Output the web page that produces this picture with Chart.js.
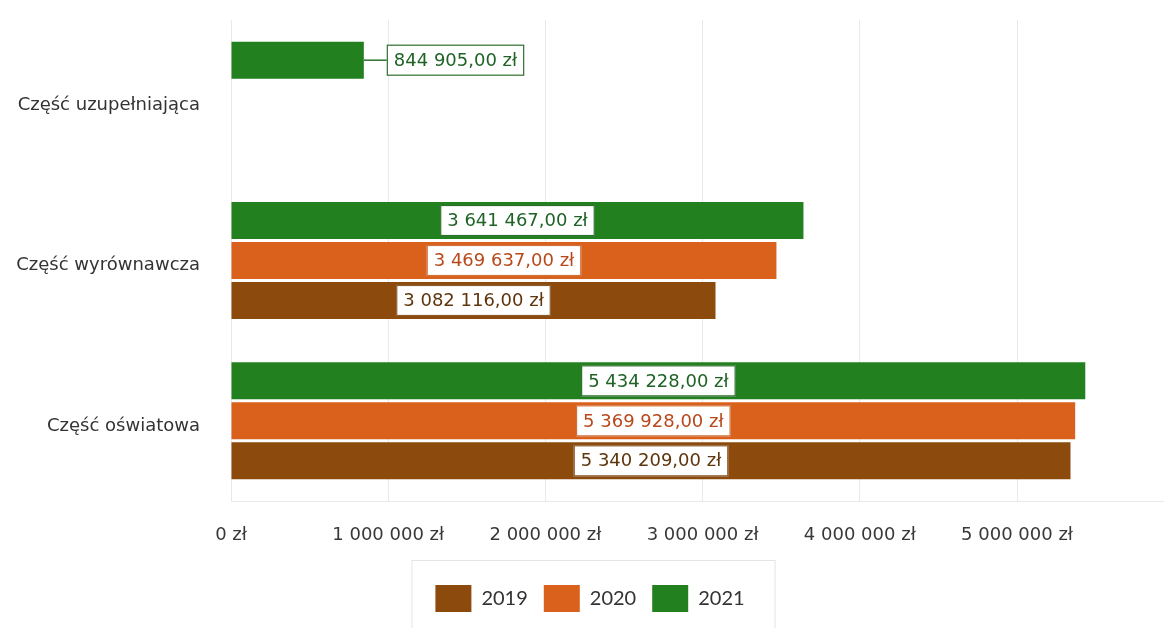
<!DOCTYPE html>
<html lang="pl">
<head>
<meta charset="utf-8">
<title>Subwencja</title>
<script src="https://cdn.jsdelivr.net/npm/chart.js@4/dist/chart.umd.min.js"></script>
<style>
    html, body { margin: 0; padding: 0; background: #ffffff; }
    #wrap { width: 1164px; height: 628px; position: relative; }
</style>
</head>
<body>
<div id="wrap"><canvas id="chart"></canvas></div>
<script>
// dane
const categories = ['Część uzupełniająca', 'Część wyrównawcza', 'Część oświatowa'];
const years = ['2021', '2020', '2019'];
const values2021 = [844905, 3641467, 5434228];
const values2020 = [null, 3469637, 5369928];
const values2019 = [null, 3082116, 5340209];
const xTicks = [0, 1000000, 2000000, 3000000, 4000000, 5000000];

const barColors = ['#22801f', '#d9611c', '#8c4b0c'];
const textColors = ['#1f6326', '#b8481a', '#5e350c'];
const frameColors = ['#2d6f2d', '#d0703a', '#8a5a2a'];

function formatZl(num, withCents) {
    const s = String(Math.round(num)).replace(/\B(?=(\d{3})+(?!\d))/g, ' ');
    return s + (withCents ? ',00' : '') + ' zł';
}

// etykiety wartości w ramkach
const valueLabels = {
    id: 'valueLabels',
    afterDatasetsDraw(chart) {
        const ctx = chart.ctx;
        ctx.save();
        ctx.font = '18px "DejaVu Sans"';
        ctx.textBaseline = 'middle';
        ctx.textAlign = 'center';
        chart.data.datasets.forEach((ds, di) => {
            const meta = chart.getDatasetMeta(di);
            meta.data.forEach((bar, i) => {
                const v = ds.data[i];
                if (v === null || v === undefined) return;
                const text = formatZl(v, true);
                const w = ctx.measureText(text).width + 14;
                const h = 31;
                const barLen = bar.x - bar.base;
                let cx = (bar.x + bar.base) / 2;
                if (w + 6 > barLen) {
                    cx = bar.x + 23 + w / 2;
                    ctx.strokeStyle = frameColors[di];
                    ctx.lineWidth = 1.5;
                    ctx.beginPath();
                    ctx.moveTo(bar.x, bar.y);
                    ctx.lineTo(cx - w / 2, bar.y);
                    ctx.stroke();
                }
                ctx.fillStyle = '#ffffff';
                ctx.fillRect(cx - w / 2, bar.y - h / 2, w, h);
                ctx.strokeStyle = frameColors[di];
                ctx.lineWidth = 1.2;
                ctx.strokeRect(cx - w / 2 + 0.5, bar.y - h / 2 + 0.5, w - 1, h - 1);
                ctx.fillStyle = textColors[di];
                ctx.fillText(text, cx, bar.y + 1);
            });
        });
        ctx.restore();
    }
};

// ramka legendy
const legendFrame = {
    id: 'legendFrame',
    afterDraw(chart) {
        const lg = chart.legend;
        if (!lg || !lg.legendHitBoxes || !lg.legendHitBoxes.length) return;
        const boxes = lg.legendHitBoxes;
        const left = boxes[0].left - 24;
        const right = boxes[boxes.length - 1].left + boxes[boxes.length - 1].width + 30;
        const ctx = chart.ctx;
        ctx.save();
        ctx.strokeStyle = '#e4e4e4';
        ctx.lineWidth = 1;
        ctx.strokeRect(left + 0.5, lg.top - 8.5, right - left, 80);
        ctx.restore();
    }
};

new Chart(document.getElementById('chart'), {
    type: 'bar',
    data: {
        labels: categories,
        datasets: [
            { label: years[0], data: values2021, backgroundColor: barColors[0] },
            { label: years[1], data: values2020, backgroundColor: barColors[1] },
            { label: years[2], data: values2019, backgroundColor: barColors[2] }
        ]
    },
    options: {
        indexAxis: 'y',
        responsive: true,
        maintainAspectRatio: false,
        animation: false,
        categoryPercentage: 0.748,
        barPercentage: 0.925,
        layout: { padding: { top: 20, right: 0, bottom: 6, left: 16 } },
        plugins: {
            tooltip: { enabled: false },
            legend: {
                position: 'bottom',
                reverse: true,
                labels: {
                    boxWidth: 36,
                    boxHeight: 27,
                    padding: 16,
                    color: '#333333',
                    font: { family: 'Lato', size: 20 }
                }
            }
        },
        scales: {
            x: {
                min: 0,
                max: 5935000,
                afterBuildTicks(scale) {
                    scale.ticks = xTicks.map(v => ({ value: v }));
                },
                afterFit(scale) { scale.height = 68; },
                ticks: {
                    includeBounds: false,
                    padding: 24,
                    color: '#383838',
                    font: { family: 'DejaVu Sans', size: 18 },
                    callback: v => formatZl(v, false)
                },
                grid: { color: '#e9e9e9', drawTicks: false },
                border: { color: '#e9e9e9' }
            },
            y: {
                afterFit(scale) { scale.width = 215; },
                ticks: {
                    padding: 0,
                    labelOffset: 5,
                    color: '#333333',
                    font: { family: 'DejaVu Sans', size: 18 }
                },
                grid: { display: false, drawTicks: true, tickLength: 31 },
                border: { display: false }
            }
        }
    },
    plugins: [valueLabels, legendFrame]
});
</script>
</body>
</html>
